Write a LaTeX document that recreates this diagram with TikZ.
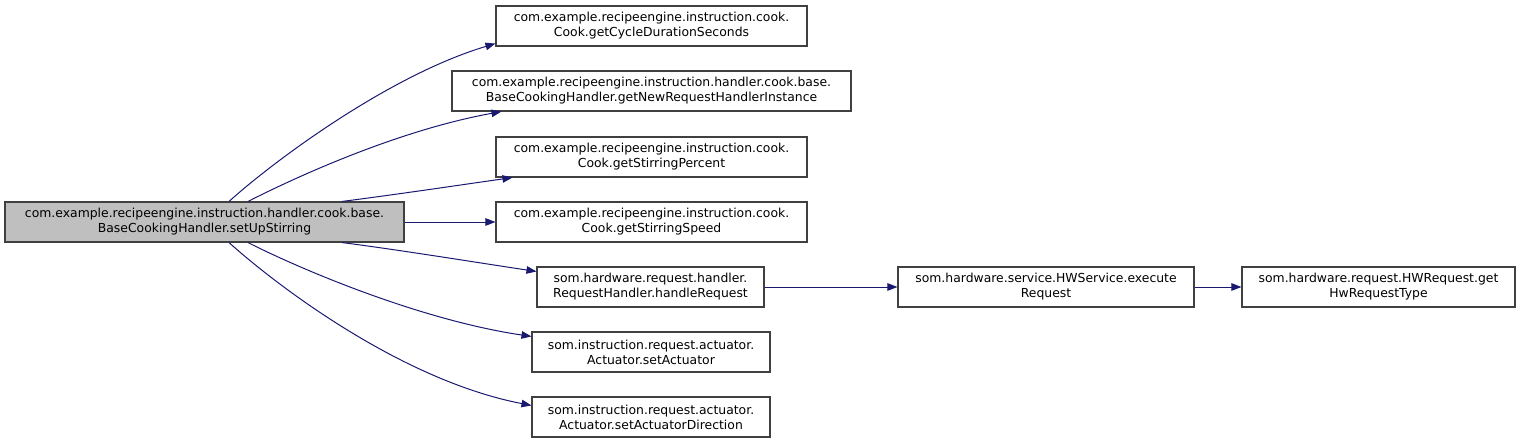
\documentclass[tikz,border=0pt]{standalone}
\usepackage{fontspec}
\setmainfont{DejaVu Sans}
\usetikzlibrary{arrows.meta}
\definecolor{edgeblue}{HTML}{191970}
\definecolor{boxline}{HTML}{404040}
\definecolor{mainfill}{HTML}{BFBFBF}
\tikzset{
  box/.style={draw=boxline, line width=1.1pt, fill=white, inner sep=0pt, minimum height=40pt,
    align=center, font=\fontsize{12.4}{15}\selectfont},
  mainbox/.style={box, fill=mainfill},
  call/.style={draw=edgeblue, line width=1pt, -{Triangle[length=10pt,width=7.5pt]}}
}
\begin{document}
\begin{tikzpicture}[x=1pt,y=-1pt]
\useasboundingbox (0,0) rectangle (1521,444);
\node[mainbox, minimum width=399pt] (main) at (204.5,222) {com.example.recipeengine.instruction.handler.cook.base.\\BaseCookingHandler.setUpStirring};
\node[box, minimum width=311pt] (n1) at (651.5,26) {com.example.recipeengine.instruction.cook.\\Cook.getCycleDurationSeconds};
\node[box, minimum width=399pt] (n2) at (651.5,91) {com.example.recipeengine.instruction.handler.cook.base.\\BaseCookingHandler.getNewRequestHandlerInstance};
\node[box, minimum width=311pt] (n3) at (651.5,157) {com.example.recipeengine.instruction.cook.\\Cook.getStirringPercent};
\node[box, minimum width=311pt] (n4) at (651.5,222) {com.example.recipeengine.instruction.cook.\\Cook.getStirringSpeed};
\node[box, minimum width=227pt] (n5) at (650.5,287) {som.hardware.request.handler.\\RequestHandler.handleRequest};
\node[box, minimum width=238pt] (n6) at (651,352) {som.instruction.request.actuator.\\Actuator.setActuator};
\node[box, minimum width=238pt] (n7) at (651,417) {som.instruction.request.actuator.\\Actuator.setActuatorDirection};
\node[box, minimum width=296pt] (n8) at (1046,287) {som.hardware.service.HWService.execute\\Request};
\node[box, minimum width=273pt] (n9) at (1378.5,287) {som.hardware.request.HWRequest.get\\HwRequestType};

\draw[call] ([xshift=24.5pt]main.north) .. controls (275,160) and (390,75) .. ([yshift=3pt]n1.south west);
\draw[call] ([xshift=43.5pt]main.north) .. controls (300,175) and (400,130) .. ([xshift=50pt]n2.south west);
\draw[call] ([xshift=137.5pt]main.north) .. controls (400,194) and (460,185) .. ([xshift=17pt]n3.south west);
\draw[call] (main.east) -- (n4.west);
\draw[call] ([xshift=137.5pt]main.south) .. controls (400,250) and (480,263) .. ([yshift=-5pt]n5.north west);
\draw[call] ([xshift=43.5pt]main.south) .. controls (300,269) and (420,320) .. ([yshift=-5pt]n6.north west);
\draw[call] ([xshift=24.5pt]main.south) .. controls (275,284) and (400,380) .. ([yshift=-9pt]n7.north west);
\draw[call] (n5.east) -- (n8.west);
\draw[call] (n8.east) -- (n9.west);
\end{tikzpicture}
\end{document}
